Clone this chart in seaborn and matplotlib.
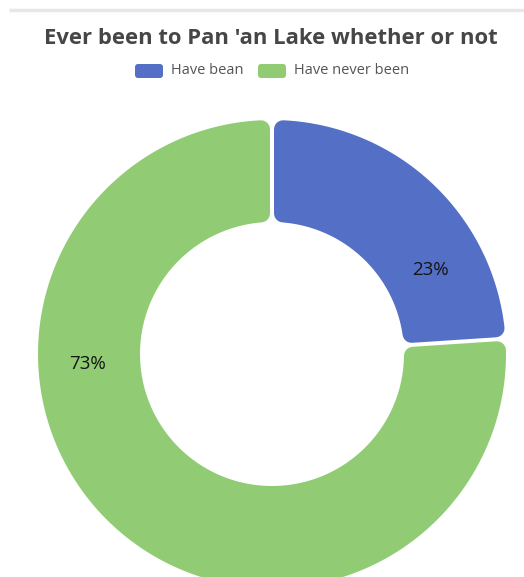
import math
import numpy as np
import matplotlib
matplotlib.use("Agg")
import matplotlib.pyplot as plt
from matplotlib.patches import Polygon, FancyBboxPatch
import seaborn as sns

# Survey answers
categories = ["Have bean", "Have never been"]
shares = [23, 73]
colors = ["#5470c6", "#91cc75"]
title = "Ever been to Pan 'an Lake whether or not"

sns.set_theme(style="white")
plt.rcParams["font.family"] = ["Open Sans", "DejaVu Sans"]

W, H = 524, 577
fig = plt.figure(figsize=(W / 100, H / 100), dpi=100)
ax = fig.add_axes([0, 0, 1, 1])


def py(y):
    """Convert a top-down pixel row to the axes' y value."""
    return H - y


cx, cy = 272, py(354)
r_out, r_in = 234, 132
corner, gap = 9, 4

wedges, _ = ax.pie(shares, startangle=90, counterclock=False, radius=r_out,
                   center=(cx, cy), colors=colors,
                   wedgeprops=dict(width=r_out - r_in))


def rounded_sector(t1, t2, color):
    ro, ri = r_out - corner, r_in + corner
    d = corner + gap / 2
    ao = math.degrees(math.asin(d / ro))
    ai = math.degrees(math.asin(d / ri))
    outer = np.radians(np.linspace(t1 + ao, t2 - ao, 200))
    inner = np.radians(np.linspace(t2 - ai, t1 + ai, 200))
    pts = np.concatenate([
        np.column_stack([cx + ro * np.cos(outer), cy + ro * np.sin(outer)]),
        np.column_stack([cx + ri * np.cos(inner), cy + ri * np.sin(inner)]),
    ])
    lw = 2 * corner * 72 / fig.dpi
    ax.add_patch(Polygon(pts, closed=True, facecolor=color, edgecolor=color,
                         linewidth=lw, joinstyle="round"))


for w, col in zip(wedges, colors):
    w.set_visible(False)
    rounded_sector(w.theta1, w.theta2, col)

# Percentage labels placed inside the ring
label_pos = [(28, 179), (183, 185)]
for v, (ang, rr) in zip(shares, label_pos):
    a = math.radians(ang)
    ax.text(cx + rr * math.cos(a), cy + rr * math.sin(a), f"{v}%",
            ha="center", va="center", fontsize=13.5, color="#141414")

# Title and legend
ax.text(271, py(38), title, ha="center", va="center", fontsize=15.8,
        fontweight="bold", color="#464646")

legend_items = [(135, 171), (258, 294)]
for (bx, tx), lab, col in zip(legend_items, categories, colors):
    ax.add_patch(FancyBboxPatch((bx + 3, py(78) + 3), 22, 8,
                                boxstyle="round,pad=3", facecolor=col,
                                edgecolor="none"))
    ax.text(tx, py(71), lab, ha="left", va="center", fontsize=10.5,
            color="#555555")

# Thin rule across the top
ax.plot([9, W], [py(10), py(10)], color="#e6e6ec", linewidth=2.5,
        solid_capstyle="butt")

ax.set_xlim(0, W)
ax.set_ylim(0, H)
ax.set_aspect("auto")
ax.axis("off")
fig.savefig("out.png", dpi=100, facecolor="white")
